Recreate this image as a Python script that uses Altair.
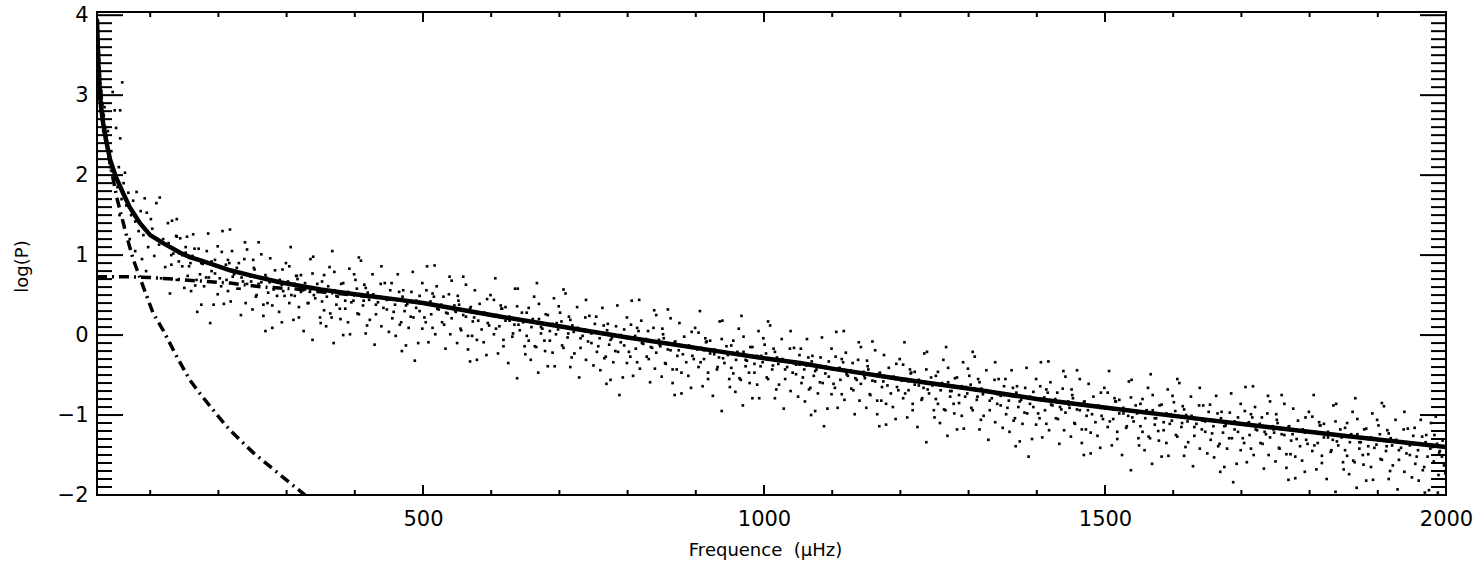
import altair as alt
import pandas as pd

# ---------------- data ----------------
# fitted model (solid)
fit_x = [22, 24, 26, 28, 31, 35, 41, 50, 60, 70, 85, 100, 119, 144, 158, 175, 200, 217, 250,
         290, 350, 400, 466, 500, 600, 700, 760, 800, 900, 1000, 1053, 1100, 1200, 1317, 1400,
         1493, 1610, 1738, 1850, 2000]
fit_y = [3.95, 3.4, 3.05, 2.85, 2.65, 2.45, 2.2, 1.97, 1.78, 1.6, 1.4, 1.25, 1.15, 1.03, 0.975,
         0.93, 0.86, 0.81, 0.74, 0.66, 0.57, 0.51, 0.44, 0.40, 0.25, 0.11, 0.025, -0.03, -0.16,
         -0.29, -0.35, -0.42, -0.55, -0.69, -0.80, -0.90, -1.02, -1.15, -1.26, -1.40]

# background component (dash-dot, flat at low frequency)
bg_x = [22, 60, 100, 150, 217, 265, 309, 350, 400, 466, 500, 600, 700, 760, 800, 900, 1000,
        1053, 1100, 1200, 1317, 1400, 1493, 1610, 1738, 1850, 2000]
bg_y = [0.73, 0.73, 0.72, 0.69, 0.65, 0.60, 0.58, 0.54, 0.50, 0.44, 0.40, 0.25, 0.11, 0.025,
        -0.03, -0.16, -0.29, -0.35, -0.42, -0.55, -0.69, -0.80, -0.90, -1.02, -1.15, -1.26, -1.40]

# low-frequency component (steep dash-dot)
st_x = [22, 26, 31, 41, 51, 66, 75, 90, 104, 119, 139, 158, 170, 202, 217, 251, 295, 327]
st_y = [3.90, 3.2, 2.7, 2.15, 1.72, 1.22, 0.95, 0.6, 0.28, 0.06, -0.27, -0.56, -0.70, -1.04,
        -1.19, -1.47, -1.78, -2.0]

# power spectrum dots, first pass (low frequencies + 50 uHz strips from 100)
dots1_x = [
    22, 22, 23, 23, 24, 24, 25, 25, 26, 27, 27, 28, 29, 30, 31, 32, 33, 34, 35, 37, 38, 40, 41, 43,
    45, 48, 50, 56, 56, 59, 63, 44, 47, 52, 54, 58, 61, 65, 68, 72, 75, 78, 80, 83, 86, 90, 92, 95,
    97, 55, 62, 70, 78, 88, 94, 114, 132, 139,
    109, 126, 144, 103, 119, 137, 113, 131, 147, 106, 122, 139, 116, 129, 101, 143,
    185, 154, 171, 195, 162, 177, 190, 157, 182, 168, 199, 160, 175, 188, 165, 152,
    217, 242, 205, 230, 211, 246, 223, 236, 202, 228, 214, 240, 208, 233, 220, 248,
    259, 276, 294, 253, 269, 287, 263, 281, 297, 256, 272, 289, 266, 279, 251, 293,
    335, 304, 321, 345, 312, 327, 340, 307, 332, 318, 349, 310, 325, 338, 315, 302,
    367, 392, 355, 380, 361, 396, 373, 386, 352, 378, 364, 390, 358, 383, 370, 398,
    409, 426, 444, 403, 419, 437, 413, 431, 447, 406, 422, 439, 416, 429, 401, 443,
    485, 454, 471, 495, 462, 477, 490, 457, 482, 468, 499, 460, 475, 488, 465, 452,
    517, 542, 505, 530, 511, 546, 523, 536, 502, 528, 514, 540, 508, 533, 520, 548,
    559, 576, 594, 553, 569, 587, 563, 581, 597, 556, 572, 589, 566, 579, 551, 593,
    635, 604, 621, 645, 612, 627, 640, 607, 632, 618, 649, 610, 625, 638, 615, 602,
    667, 692, 655, 680, 661, 696, 673, 686, 652, 678, 664, 690, 658, 683, 670, 698,
    709, 726, 744, 703, 719, 737, 713, 731, 747, 706, 722, 739, 716, 729, 701, 743,
    785, 754, 771, 795, 762, 777, 790, 757, 782, 768, 799, 760, 775, 788, 765, 752,
    817, 842, 805, 830, 811, 846, 823, 836, 802, 828, 814, 840, 808, 833, 820, 848,
    859, 876, 894, 853, 869, 887, 863, 881, 897, 856, 872, 889, 866, 879, 851, 893,
    935, 904, 921, 945, 912, 927, 940, 907, 932, 918, 949, 910, 925, 938, 915, 902,
    967, 992, 955, 980, 961, 996, 973, 986, 952, 978, 964, 990, 958, 983, 970, 998,
    1009, 1026, 1044, 1003, 1019, 1037, 1013, 1031, 1047, 1006, 1022, 1039, 1016, 1029, 1001, 1043,
    1085, 1054, 1071, 1095, 1062, 1077, 1090, 1057, 1082, 1068, 1099, 1060, 1075, 1088, 1065, 1052,
    1117, 1142, 1105, 1130, 1111, 1146, 1123, 1136, 1102, 1128, 1114, 1140, 1108, 1133, 1120, 1148,
    1159, 1176, 1194, 1153, 1169, 1187, 1163, 1181, 1197, 1156, 1172, 1189, 1166, 1179, 1151, 1193,
    1235, 1204, 1221, 1245, 1212, 1227, 1240, 1207, 1232, 1218, 1249, 1210, 1225, 1238, 1215, 1202,
    1267, 1292, 1255, 1280, 1261, 1296, 1273, 1286, 1252, 1278, 1264, 1290, 1258, 1283, 1270, 1298,
    1309, 1326, 1344, 1303, 1319, 1337, 1313, 1331, 1347, 1306, 1322, 1339, 1316, 1329, 1301, 1343,
    1385, 1354, 1371, 1395, 1362, 1377, 1390, 1357, 1382, 1368, 1399, 1360, 1375, 1388, 1365, 1352,
    1417, 1442, 1405, 1430, 1411, 1446, 1423, 1436, 1402, 1428, 1414, 1440, 1408, 1433, 1420, 1448,
    1459, 1476, 1494, 1453, 1469, 1487, 1463, 1481, 1497, 1456, 1472, 1489, 1466, 1479, 1451, 1493,
    1535, 1504, 1521, 1545, 1512, 1527, 1540, 1507, 1532, 1518, 1549, 1510, 1525, 1538, 1515, 1502,
    1567, 1592, 1555, 1580, 1561, 1596, 1573, 1586, 1552, 1578, 1564, 1590, 1558, 1583, 1570, 1598,
    1609, 1626, 1644, 1603, 1619, 1637, 1613, 1631, 1647, 1606, 1622, 1639, 1616, 1629, 1601, 1643,
    1685, 1654, 1671, 1695, 1662, 1677, 1690, 1657, 1682, 1668, 1699, 1660, 1675, 1688, 1665, 1652,
    1717, 1742, 1705, 1730, 1711, 1746, 1723, 1736, 1702, 1728, 1714, 1740, 1708, 1733, 1720, 1748,
    1759, 1776, 1794, 1753, 1769, 1787, 1763, 1781, 1797, 1756, 1772, 1789, 1766, 1779, 1751, 1793,
    1835, 1804, 1821, 1845, 1812, 1827, 1840, 1807, 1832, 1818, 1849, 1810, 1825, 1838, 1815, 1802,
    1867, 1892, 1855, 1880, 1861, 1896, 1873, 1886, 1852, 1878, 1864, 1890, 1858, 1883, 1870, 1898,
    1909, 1926, 1944, 1903, 1919, 1937, 1913, 1931, 1947, 1906, 1922, 1939, 1916, 1929, 1901, 1943,
    1985, 1954, 1971, 1995, 1962, 1977, 1990, 1957, 1982, 1968, 1999, 1960, 1975, 1988, 1965, 1952,
]
dots1_y = [
    3.95, 3.7, 3.55, 3.9, 3.3, 3.6, 3.15, 3.45, 2.95, 3.2, 2.85, 3.05, 2.7, 2.9, 2.55, 2.75, 2.85,
    2.45, 2.6, 2.35, 2.55, 2.25, 2.1, 2.3, 3.04, 2.81, 2.59, 2.81, 2.46, 3.16, 2.03, 2.05, 1.95,
    1.85, 2.1, 1.7, 1.9, 1.62, 1.78, 1.5, 1.68, 1.42, 1.79, 1.3, 1.55, 1.25, 1.71, 1.53, 1.1, 1.5,
    1.35, 1.2, 1.05, 0.95, 0.8, 1.72, 1.43, 1.23,
    1.65, 1.40, 1.21, 1.33, 1.20, 1.07, 1.13, 1.00, 0.86, 0.99, 0.85, 0.69, 0.71, 0.52, 1.45, 1.02,
    1.27, 1.23, 1.08, 0.94, 0.99, 0.89, 0.80, 0.86, 0.72, 0.69, 0.51, 0.55, 0.38, 0.15, 1.08, 1.03,
    1.32, 1.07, 1.04, 0.90, 0.88, 0.75, 0.76, 0.67, 0.71, 0.58, 0.55, 0.40, 0.39, 0.25, 1.05, 0.67,
    1.16, 0.96, 0.82, 0.82, 0.75, 0.66, 0.66, 0.57, 0.49, 0.50, 0.40, 0.29, 0.24, 0.09, 0.94, 0.63,
    0.95, 0.86, 0.75, 0.64, 0.64, 0.57, 0.50, 0.50, 0.40, 0.35, 0.22, 0.19, 0.05, -0.06, 0.74, 0.67,
    1.05, 0.83, 0.75, 0.64, 0.61, 0.52, 0.49, 0.43, 0.42, 0.33, 0.27, 0.16, 0.11, 0.00, 0.79, 0.43,
    0.93, 0.76, 0.65, 0.58, 0.53, 0.48, 0.43, 0.38, 0.32, 0.26, 0.19, 0.11, 0.02, -0.12, 0.69, 0.46,
    0.79, 0.65, 0.56, 0.49, 0.44, 0.39, 0.34, 0.29, 0.23, 0.16, 0.08, -0.01, -0.13, -0.32, 0.54, 0.45,
    0.87, 0.68, 0.56, 0.48, 0.42, 0.37, 0.32, 0.27, 0.22, 0.16, 0.09, 0.01, -0.09, -0.17, 0.61, 0.29,
    0.73, 0.56, 0.45, 0.38, 0.33, 0.28, 0.23, 0.18, 0.12, 0.06, -0.01, -0.09, -0.18, -0.31, 0.49, 0.26,
    0.58, 0.44, 0.35, 0.28, 0.23, 0.18, 0.13, 0.08, 0.02, -0.06, -0.14, -0.23, -0.35, -0.54, 0.33, 0.24,
    0.65, 0.46, 0.34, 0.26, 0.20, 0.15, 0.10, 0.05, -0.01, -0.07, -0.14, -0.22, -0.31, -0.39, 0.39, 0.07,
    0.52, 0.35, 0.24, 0.17, 0.12, 0.07, 0.02, -0.04, -0.10, -0.16, -0.23, -0.31, -0.40, -0.53, 0.28, 0.05,
    0.37, 0.23, 0.14, 0.07, 0.02, -0.04, -0.09, -0.14, -0.20, -0.27, -0.35, -0.44, -0.56, -0.75, 0.12, 0.03,
    0.44, 0.25, 0.13, 0.05, -0.01, -0.06, -0.11, -0.16, -0.21, -0.27, -0.34, -0.42, -0.51, -0.59, 0.18, -0.14,
    0.32, 0.15, 0.04, -0.04, -0.09, -0.14, -0.19, -0.24, -0.30, -0.36, -0.43, -0.51, -0.60, -0.73, 0.08, -0.16,
    0.17, 0.03, -0.07, -0.14, -0.19, -0.24, -0.29, -0.34, -0.40, -0.47, -0.55, -0.64, -0.76, -0.95, -0.09, -0.18,
    0.24, 0.05, -0.07, -0.15, -0.21, -0.26, -0.31, -0.36, -0.41, -0.47, -0.54, -0.62, -0.71, -0.79, -0.02, -0.34,
    0.12, -0.05, -0.16, -0.23, -0.28, -0.33, -0.38, -0.43, -0.49, -0.55, -0.62, -0.70, -0.79, -0.92, -0.12, -0.35,
    -0.03, -0.17, -0.26, -0.33, -0.38, -0.43, -0.48, -0.53, -0.59, -0.66, -0.74, -0.83, -0.95, -1.14, -0.28, -0.37,
    0.05, -0.15, -0.27, -0.35, -0.41, -0.46, -0.51, -0.56, -0.61, -0.67, -0.74, -0.82, -0.91, -0.99, -0.22, -0.54,
    -0.08, -0.25, -0.36, -0.43, -0.48, -0.53, -0.58, -0.63, -0.69, -0.75, -0.82, -0.90, -0.99, -1.12, -0.32, -0.55,
    -0.23, -0.37, -0.46, -0.53, -0.58, -0.63, -0.68, -0.73, -0.79, -0.86, -0.94, -1.03, -1.15, -1.34, -0.48, -0.57,
    -0.15, -0.34, -0.46, -0.54, -0.60, -0.65, -0.70, -0.75, -0.80, -0.86, -0.93, -1.01, -1.10, -1.18, -0.41, -0.73,
    -0.27, -0.44, -0.55, -0.62, -0.67, -0.72, -0.77, -0.82, -0.88, -0.94, -1.01, -1.09, -1.18, -1.31, -0.51, -0.74,
    -0.41, -0.55, -0.64, -0.71, -0.76, -0.81, -0.86, -0.91, -0.97, -1.04, -1.12, -1.21, -1.33, -1.52, -0.66, -0.75,
    -0.33, -0.52, -0.64, -0.72, -0.78, -0.83, -0.88, -0.93, -0.98, -1.04, -1.11, -1.19, -1.28, -1.36, -0.59, -0.91,
    -0.44, -0.61, -0.72, -0.79, -0.84, -0.89, -0.94, -0.99, -1.05, -1.11, -1.18, -1.26, -1.35, -1.48, -0.68, -0.91,
    -0.58, -0.72, -0.81, -0.88, -0.93, -0.98, -1.03, -1.08, -1.14, -1.21, -1.29, -1.38, -1.50, -1.69, -0.83, -0.92,
    -0.49, -0.68, -0.80, -0.88, -0.94, -0.99, -1.04, -1.09, -1.14, -1.20, -1.27, -1.35, -1.44, -1.52, -0.75, -1.07,
    -0.60, -0.77, -0.88, -0.95, -1.00, -1.05, -1.10, -1.15, -1.21, -1.27, -1.34, -1.42, -1.51, -1.64, -0.84, -1.07,
    -0.73, -0.87, -0.96, -1.03, -1.08, -1.13, -1.18, -1.23, -1.29, -1.36, -1.44, -1.53, -1.65, -1.84, -0.98, -1.07,
    -0.64, -0.83, -0.95, -1.03, -1.09, -1.14, -1.19, -1.24, -1.29, -1.35, -1.42, -1.50, -1.59, -1.67, -0.90, -1.22,
    -0.75, -0.92, -1.03, -1.10, -1.15, -1.20, -1.25, -1.30, -1.36, -1.42, -1.49, -1.57, -1.66, -1.79, -0.99, -1.22,
    -0.88, -1.02, -1.11, -1.18, -1.23, -1.28, -1.33, -1.38, -1.44, -1.51, -1.59, -1.68, -1.80, -1.96, -1.13, -1.22,
    -0.79, -0.98, -1.10, -1.18, -1.24, -1.29, -1.34, -1.39, -1.44, -1.50, -1.57, -1.65, -1.74, -1.82, -1.05, -1.37,
    -0.89, -1.06, -1.17, -1.24, -1.29, -1.34, -1.39, -1.44, -1.50, -1.56, -1.63, -1.71, -1.80, -1.93, -1.13, -1.36,
    -1.02, -1.16, -1.25, -1.32, -1.37, -1.42, -1.47, -1.52, -1.58, -1.65, -1.73, -1.82, -1.94, -1.97, -1.27, -1.36,
]

# power spectrum dots, second pass (strips shifted by 25 uHz, denser near the fit)
dots2_x = [
    163, 138, 152, 127, 170, 147, 134, 159, 142, 173, 131, 155, 166, 150, 139, 169,
    199, 183, 216, 190, 208, 175, 221, 195, 212, 186, 204, 179, 218, 193, 206, 214,
    263, 238, 252, 227, 270, 247, 234, 259, 242, 273, 231, 255, 266, 250, 239, 269,
    299, 283, 316, 290, 308, 275, 321, 295, 312, 286, 304, 279, 318, 293, 306, 314,
    363, 338, 352, 327, 370, 347, 334, 359, 342, 373, 331, 355, 366, 350, 339, 369,
    399, 383, 416, 390, 408, 375, 421, 395, 412, 386, 404, 379, 418, 393, 406, 414,
    463, 438, 452, 427, 470, 447, 434, 459, 442, 473, 431, 455, 466, 450, 439, 469,
    499, 483, 516, 490, 508, 475, 521, 495, 512, 486, 504, 479, 518, 493, 506, 514,
    563, 538, 552, 527, 570, 547, 534, 559, 542, 573, 531, 555, 566, 550, 539, 569,
    599, 583, 616, 590, 608, 575, 621, 595, 612, 586, 604, 579, 618, 593, 606, 614,
    663, 638, 652, 627, 670, 647, 634, 659, 642, 673, 631, 655, 666, 650, 639, 669,
    699, 683, 716, 690, 708, 675, 721, 695, 712, 686, 704, 679, 718, 693, 706, 714,
    763, 738, 752, 727, 770, 747, 734, 759, 742, 773, 731, 755, 766, 750, 739, 769,
    799, 783, 816, 790, 808, 775, 821, 795, 812, 786, 804, 779, 818, 793, 806, 814,
    863, 838, 852, 827, 870, 847, 834, 859, 842, 873, 831, 855, 866, 850, 839, 869,
    899, 883, 916, 890, 908, 875, 921, 895, 912, 886, 904, 879, 918, 893, 906, 914,
    963, 938, 952, 927, 970, 947, 934, 959, 942, 973, 931, 955, 966, 950, 939, 969,
    999, 983, 1016, 990, 1008, 975, 1021, 995, 1012, 986, 1004, 979, 1018, 993, 1006, 1014,
    1063, 1038, 1052, 1027, 1070, 1047, 1034, 1059, 1042, 1073, 1031, 1055, 1066, 1050, 1039, 1069,
    1099, 1083, 1116, 1090, 1108, 1075, 1121, 1095, 1112, 1086, 1104, 1079, 1118, 1093, 1106, 1114,
    1163, 1138, 1152, 1127, 1170, 1147, 1134, 1159, 1142, 1173, 1131, 1155, 1166, 1150, 1139, 1169,
    1199, 1183, 1216, 1190, 1208, 1175, 1221, 1195, 1212, 1186, 1204, 1179, 1218, 1193, 1206, 1214,
    1263, 1238, 1252, 1227, 1270, 1247, 1234, 1259, 1242, 1273, 1231, 1255, 1266, 1250, 1239, 1269,
    1299, 1283, 1316, 1290, 1308, 1275, 1321, 1295, 1312, 1286, 1304, 1279, 1318, 1293, 1306, 1314,
    1363, 1338, 1352, 1327, 1370, 1347, 1334, 1359, 1342, 1373, 1331, 1355, 1366, 1350, 1339, 1369,
    1399, 1383, 1416, 1390, 1408, 1375, 1421, 1395, 1412, 1386, 1404, 1379, 1418, 1393, 1406, 1414,
    1463, 1438, 1452, 1427, 1470, 1447, 1434, 1459, 1442, 1473, 1431, 1455, 1466, 1450, 1439, 1469,
    1499, 1483, 1516, 1490, 1508, 1475, 1521, 1495, 1512, 1486, 1504, 1479, 1518, 1493, 1506, 1514,
    1563, 1538, 1552, 1527, 1570, 1547, 1534, 1559, 1542, 1573, 1531, 1555, 1566, 1550, 1539, 1569,
    1599, 1583, 1616, 1590, 1608, 1575, 1621, 1595, 1612, 1586, 1604, 1579, 1618, 1593, 1606, 1614,
    1663, 1638, 1652, 1627, 1670, 1647, 1634, 1659, 1642, 1673, 1631, 1655, 1666, 1650, 1639, 1669,
    1699, 1683, 1716, 1690, 1708, 1675, 1721, 1695, 1712, 1686, 1704, 1679, 1718, 1693, 1706, 1714,
    1763, 1738, 1752, 1727, 1770, 1747, 1734, 1759, 1742, 1773, 1731, 1755, 1766, 1750, 1739, 1769,
    1799, 1783, 1816, 1790, 1808, 1775, 1821, 1795, 1812, 1786, 1804, 1779, 1818, 1793, 1806, 1814,
    1863, 1838, 1852, 1827, 1870, 1847, 1834, 1859, 1842, 1873, 1831, 1855, 1866, 1850, 1839, 1869,
    1899, 1883, 1916, 1890, 1908, 1875, 1921, 1895, 1912, 1886, 1904, 1879, 1918, 1893, 1906, 1914,
    1963, 1938, 1952, 1927, 1970, 1947, 1934, 1959, 1942, 1973, 1931, 1955, 1966, 1950, 1939, 1969,
    1978, 1983, 1987, 1991, 1994, 1997, 1980, 1989,
]
dots2_y = [
    1.26, 1.24, 1.10, 1.15, 0.95, 1.00, 1.02, 0.90, 0.92, 0.76, 0.88, 0.74, 0.62, 0.59, 1.45, 0.29,
    1.11, 1.05, 0.90, 0.92, 0.84, 0.90, 0.73, 0.77, 0.69, 0.72, 0.61, 0.61, 0.42, 0.38, 1.30, 0.94,
    1.01, 0.95, 0.84, 0.84, 0.72, 0.73, 0.72, 0.64, 0.64, 0.53, 0.58, 0.48, 0.38, 0.32, 1.16, 0.05,
    0.90, 0.81, 0.70, 0.69, 0.63, 0.66, 0.54, 0.55, 0.49, 0.49, 0.40, 0.37, 0.22, 0.16, 1.10, 0.74,
    0.85, 0.77, 0.67, 0.65, 0.56, 0.55, 0.54, 0.48, 0.46, 0.38, 0.40, 0.31, 0.22, 0.15, 0.98, -0.10,
    0.76, 0.65, 0.59, 0.54, 0.51, 0.48, 0.44, 0.41, 0.37, 0.33, 0.27, 0.20, 0.12, 0.01, 0.97, 0.63,
    0.76, 0.64, 0.56, 0.51, 0.48, 0.44, 0.41, 0.38, 0.34, 0.30, 0.26, 0.21, 0.13, 0.04, 0.86, -0.20,
    0.65, 0.54, 0.48, 0.43, 0.40, 0.37, 0.33, 0.30, 0.26, 0.22, 0.16, 0.09, 0.01, -0.10, 0.86, 0.52,
    0.63, 0.51, 0.43, 0.38, 0.35, 0.31, 0.28, 0.25, 0.21, 0.17, 0.13, 0.08, -0.01, -0.10, 0.73, -0.33,
    0.50, 0.39, 0.33, 0.28, 0.25, 0.22, 0.18, 0.15, 0.11, 0.07, 0.01, -0.06, -0.14, -0.25, 0.71, 0.37,
    0.48, 0.36, 0.28, 0.23, 0.20, 0.16, 0.13, 0.10, 0.06, 0.02, -0.02, -0.07, -0.15, -0.24, 0.58, -0.47,
    0.36, 0.25, 0.19, 0.14, 0.11, 0.08, 0.04, 0.01, -0.03, -0.07, -0.13, -0.20, -0.28, -0.39, 0.57, 0.23,
    0.34, 0.22, 0.14, 0.09, 0.06, 0.02, -0.01, -0.04, -0.08, -0.12, -0.16, -0.21, -0.29, -0.38, 0.44, -0.61,
    0.22, 0.11, 0.05, 0.00, -0.03, -0.06, -0.10, -0.13, -0.17, -0.21, -0.27, -0.34, -0.42, -0.53, 0.43, 0.09,
    0.21, 0.09, 0.01, -0.05, -0.08, -0.12, -0.15, -0.18, -0.22, -0.26, -0.30, -0.35, -0.43, -0.52, 0.31, -0.75,
    0.09, -0.02, -0.08, -0.13, -0.16, -0.19, -0.23, -0.26, -0.30, -0.34, -0.40, -0.47, -0.55, -0.66, 0.30, -0.04,
    0.08, -0.05, -0.13, -0.18, -0.21, -0.25, -0.28, -0.31, -0.35, -0.39, -0.43, -0.48, -0.56, -0.65, 0.18, -0.88,
    -0.04, -0.15, -0.21, -0.26, -0.29, -0.32, -0.36, -0.39, -0.43, -0.47, -0.53, -0.60, -0.68, -0.79, 0.17, -0.17,
    -0.05, -0.17, -0.25, -0.30, -0.33, -0.37, -0.40, -0.43, -0.47, -0.51, -0.55, -0.60, -0.68, -0.77, 0.05, -1.00,
    -0.17, -0.28, -0.34, -0.39, -0.42, -0.45, -0.49, -0.52, -0.56, -0.60, -0.66, -0.73, -0.81, -0.92, 0.04, -0.30,
    -0.19, -0.31, -0.39, -0.44, -0.47, -0.51, -0.54, -0.57, -0.61, -0.65, -0.69, -0.74, -0.82, -0.91, -0.09, -1.14,
    -0.30, -0.41, -0.47, -0.52, -0.55, -0.58, -0.62, -0.65, -0.69, -0.73, -0.79, -0.86, -0.94, -1.05, -0.09, -0.43,
    -0.31, -0.43, -0.51, -0.56, -0.59, -0.63, -0.66, -0.69, -0.73, -0.77, -0.81, -0.86, -0.94, -1.03, -0.21, -1.26,
    -0.42, -0.53, -0.59, -0.64, -0.67, -0.70, -0.74, -0.77, -0.81, -0.85, -0.91, -0.98, -1.06, -1.17, -0.21, -0.55,
    -0.44, -0.56, -0.64, -0.69, -0.72, -0.76, -0.79, -0.82, -0.86, -0.90, -0.94, -0.99, -1.07, -1.16, -0.34, -1.39,
    -0.55, -0.66, -0.72, -0.77, -0.80, -0.83, -0.87, -0.90, -0.94, -0.98, -1.04, -1.11, -1.19, -1.30, -0.34, -0.68,
    -0.55, -0.67, -0.75, -0.80, -0.83, -0.87, -0.90, -0.93, -0.97, -1.01, -1.05, -1.10, -1.18, -1.27, -0.45, -1.50,
    -0.66, -0.77, -0.83, -0.88, -0.91, -0.94, -0.98, -1.01, -1.05, -1.09, -1.15, -1.22, -1.30, -1.41, -0.45, -0.79,
    -0.66, -0.78, -0.86, -0.91, -0.94, -0.98, -1.01, -1.04, -1.08, -1.12, -1.16, -1.21, -1.29, -1.38, -0.56, -1.61,
    -0.76, -0.87, -0.93, -0.98, -1.01, -1.04, -1.08, -1.11, -1.15, -1.19, -1.25, -1.32, -1.40, -1.51, -0.55, -0.89,
    -0.76, -0.88, -0.96, -1.01, -1.04, -1.08, -1.11, -1.14, -1.18, -1.22, -1.26, -1.31, -1.39, -1.48, -0.66, -1.71,
    -0.86, -0.97, -1.03, -1.08, -1.11, -1.14, -1.18, -1.21, -1.25, -1.29, -1.35, -1.42, -1.50, -1.61, -0.65, -0.99,
    -0.86, -0.98, -1.06, -1.11, -1.14, -1.18, -1.21, -1.24, -1.28, -1.32, -1.36, -1.41, -1.49, -1.58, -0.76, -1.81,
    -0.96, -1.07, -1.13, -1.18, -1.21, -1.24, -1.28, -1.31, -1.35, -1.39, -1.45, -1.52, -1.60, -1.71, -0.75, -1.09,
    -0.96, -1.08, -1.16, -1.21, -1.24, -1.28, -1.31, -1.34, -1.38, -1.42, -1.46, -1.51, -1.59, -1.68, -0.86, -1.91,
    -1.06, -1.17, -1.23, -1.28, -1.31, -1.34, -1.38, -1.41, -1.45, -1.49, -1.55, -1.62, -1.70, -1.81, -0.85, -1.19,
    -1.06, -1.18, -1.26, -1.31, -1.34, -1.38, -1.41, -1.44, -1.48, -1.52, -1.56, -1.61, -1.69, -1.78, -0.96, -1.97,
    -1.10, -1.25, -1.36, -1.45, -1.52, -1.63, -1.40, -1.75,
]

# axis ticks / labels
x_major = [500, 1000, 1500, 2000]
x_minor = [v for v in range(100, 2000, 100) if v % 500 != 0]
y_major = [-2, -1, 0, 1, 2, 3, 4]
y_minor = [round(-2 + 0.1 * k, 1) for k in range(61) if k % 10 != 0]

n1 = min(len(dots1_x), len(dots1_y))
n2 = min(len(dots2_x), len(dots2_y))
df_dots = pd.DataFrame({"x": dots1_x[:n1] + dots2_x[:n2], "y": dots1_y[:n1] + dots2_y[:n2]})
df_fit = pd.DataFrame({"x": fit_x, "y": fit_y})
df_bg = pd.DataFrame({"x": bg_x, "y": bg_y})
df_st = pd.DataFrame({"x": st_x, "y": st_y})

# ---------------- chart ----------------
W, H = 1349, 483
FONT = "DejaVu Sans"

xscale = alt.Scale(domain=[22, 2000], nice=False, zero=False)
yscale = alt.Scale(domain=[-2, 4.04], nice=False, zero=False)

xaxis = alt.Axis(values=x_major, format="d", ticks=False, domain=False, grid=False,
                 labelFont=FONT, labelFontSize=21, labelColor="black", labelPadding=13,
                 labelFlush=False, labelOverlap=False, labelBound=False,
                 title="Frequence\u00a0 (µHz)", titleFont=FONT, titleFontSize=18,
                 titleFontWeight="normal", titleColor="black", titlePadding=12, titleX=668)
yaxis = alt.Axis(values=y_major, format="d", ticks=False, domain=False, grid=False,
                 labelFont=FONT, labelFontSize=21, labelColor="black", labelPadding=9,
                 labelFlush=False, labelOverlap=False, labelBound=False,
                 title="log(P)", titleFont=FONT, titleFontSize=18, titleFontWeight="normal",
                 titleColor="black", titleAngle=270, titleX=-66, titleY=254,
                 titleAlign="center", titleBaseline="bottom")

X = alt.X("x:Q", scale=xscale, axis=xaxis)
Y = alt.Y("y:Q", scale=yscale, axis=yaxis)

dots = alt.Chart(df_dots).mark_square(size=7, color="black", opacity=1, clip=True).encode(x=X, y=Y)
bg = alt.Chart(df_bg).mark_line(color="black", strokeWidth=3.5, strokeDash=[10, 5, 2, 5],
                                clip=True).encode(x=X, y=Y)
steep = alt.Chart(df_st).mark_line(color="black", strokeWidth=3.5, strokeDash=[10, 5, 2, 5],
                                   clip=True).encode(x=X, y=Y)
fit = alt.Chart(df_fit).mark_line(color="black", strokeWidth=4.5, clip=True).encode(x=X, y=Y)

dxM = pd.DataFrame({"x": x_major})
dxm = pd.DataFrame({"x": x_minor})
dyM = pd.DataFrame({"y": y_major})
dym = pd.DataFrame({"y": y_minor})

tk = dict(color="black", strokeWidth=2)
ticks = [
    alt.Chart(dxM).mark_rule(**tk).encode(x=X, y=alt.value(H), y2=alt.value(H - 10)),
    alt.Chart(dxm).mark_rule(**tk).encode(x=X, y=alt.value(H), y2=alt.value(H - 5)),
    alt.Chart(dxM).mark_rule(**tk).encode(x=X, y=alt.value(0), y2=alt.value(10)),
    alt.Chart(dxm).mark_rule(**tk).encode(x=X, y=alt.value(0), y2=alt.value(5)),
    alt.Chart(dyM).mark_rule(**tk).encode(y=Y, x=alt.value(0), x2=alt.value(26)),
    alt.Chart(dym).mark_rule(**tk).encode(y=Y, x=alt.value(0), x2=alt.value(15)),
    alt.Chart(dyM).mark_rule(**tk).encode(y=Y, x=alt.value(W - 26), x2=alt.value(W)),
    alt.Chart(dym).mark_rule(**tk).encode(y=Y, x=alt.value(W - 15), x2=alt.value(W)),
]

chart = alt.layer(dots, bg, steep, fit, *ticks).properties(
    width=W, height=H,
    autosize=alt.AutoSizeParams(type="none"),
    padding={"left": 97, "top": 12, "right": 38, "bottom": 73},
    background="white",
).configure_view(stroke="black", strokeWidth=2)

chart.save("out.html", embed_options={"renderer": "svg", "actions": False})
